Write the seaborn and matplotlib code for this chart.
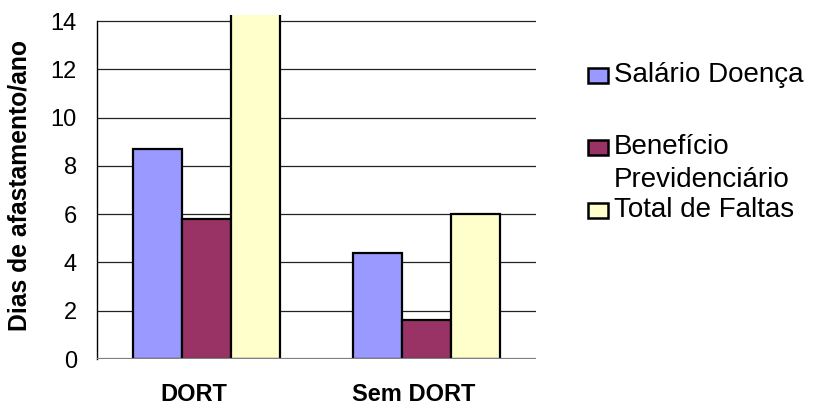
import matplotlib
matplotlib.use("Agg")
import matplotlib.pyplot as plt
import matplotlib.transforms as mtransforms
from matplotlib.patches import Rectangle
import seaborn as sns
import pandas as pd

categories = ["DORT", "Sem DORT"]
series_names = ["Salário Doença", "Benefício Previdenciário", "Total de Faltas"]
salario_doenca = [8.7, 4.4]
beneficio_previdenciario = [5.8, 1.6]
total_de_faltas = [15.0, 6.0]
y_ticks = [0, 2, 4, 6, 8, 10, 12, 14]
colors = ["#9999FF", "#993366", "#FFFFCC"]

rows = []
for name, vals in zip(series_names, [salario_doenca, beneficio_previdenciario, total_de_faltas]):
    for cat, v in zip(categories, vals):
        rows.append({"categoria": cat, "serie": name, "valor": v})
df = pd.DataFrame(rows)

sns.set_style("white")
plt.rcParams["font.family"] = ["Liberation Sans", "DejaVu Sans"]
plt.rcParams["text.color"] = "black"
plt.rcParams["xtick.color"] = "black"
plt.rcParams["ytick.color"] = "black"
plt.rcParams["axes.labelcolor"] = "black"

W, H = 816, 405
fig = plt.figure(figsize=(W / 100, H / 100), dpi=100)
ax = fig.add_axes([97 / W, 1 - 359 / H, (536 - 97) / W, (359 - 15) / H])

sns.barplot(data=df, x="categoria", y="valor", hue="serie", palette=colors,
            width=0.67, edgecolor="black", linewidth=1.6, saturation=1,
            errorbar=None, legend=False, ax=ax, zorder=3)

ax.set_ylim(0, 14.25)
ax.set_yticks(y_ticks)
ax.set_yticklabels([str(t) for t in y_ticks], fontsize=17)
for t in y_ticks[1:]:
    ax.axhline(t, color="#222222", linewidth=0.9, zorder=1)
ax.axhline(0, color="#808080", linewidth=1.6, zorder=4)

for side in ["top", "right", "bottom"]:
    ax.spines[side].set_visible(False)
ax.spines["left"].set_bounds(0, 14)
ax.spines["left"].set_color("black")
ax.spines["left"].set_linewidth(1.0)
ax.tick_params(axis="y", direction="out", length=6.5, width=1, color="black", pad=8)
ax.tick_params(axis="x", length=0, pad=17)
shift = mtransforms.ScaledTranslation(-13 / 100, 0, fig.dpi_scale_trans)
for lbl in ax.get_xticklabels():
    lbl.set_fontsize(17)
    lbl.set_fontweight("bold")
    lbl.set_transform(lbl.get_transform() + shift)
ax.set_xlabel("")
ax.set_ylabel("Dias de afastamento/ano", fontsize=17.8, fontweight="bold")
ax.yaxis.set_label_coords((32 - 97) / (536 - 97), (359 - 185.5) / 344)

# legend: boxes plus text placed in figure pixel space
box_w, box_h = 20, 15
box_centers = [75, 147, 210]
text_lines = [(82, "Salário Doença"), (154, "Benefício"), (187, "Previdenciário"), (217, "Total de Faltas")]
for yc, c in zip(box_centers, colors):
    fig.add_artist(Rectangle((588 / W, 1 - (yc + box_h / 2) / H), box_w / W, box_h / H,
                             facecolor=c, edgecolor="black", linewidth=1.8,
                             transform=fig.transFigure))
for yb, text in text_lines:
    fig.text(614 / W, 1 - yb / H, text, fontsize=20, va="baseline", ha="left")

fig.savefig("out.png", dpi=100)
